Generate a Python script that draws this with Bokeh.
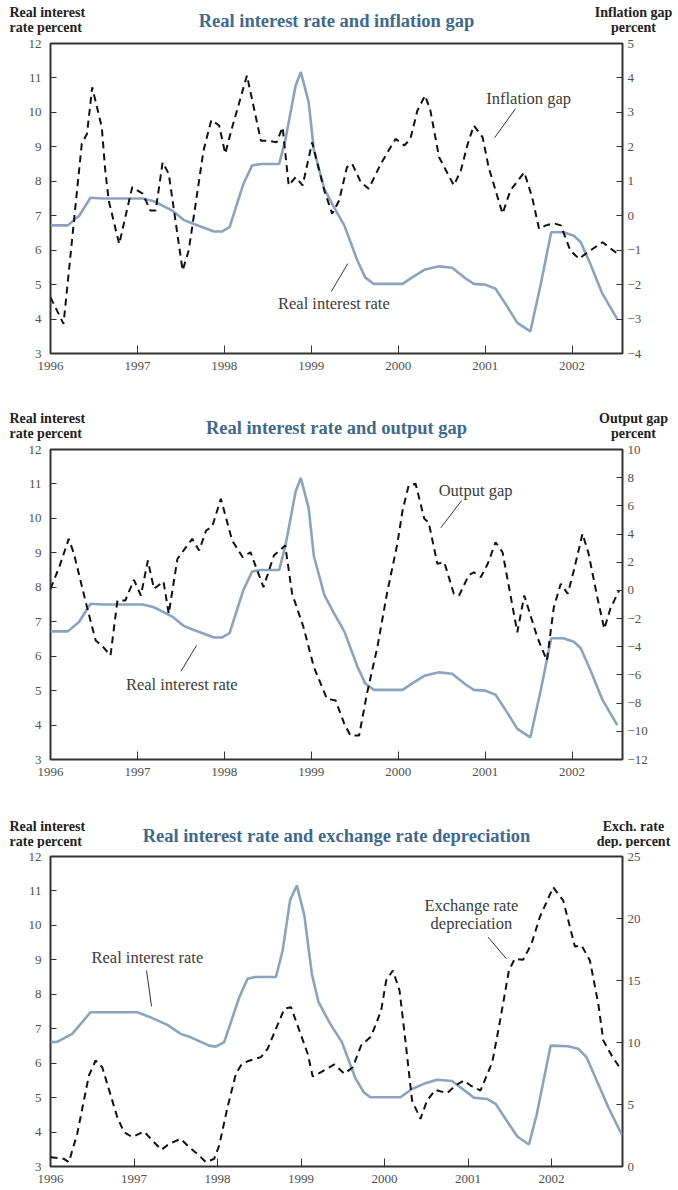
from bokeh.plotting import figure
from bokeh.layouts import column
from bokeh.models import Range1d, LinearAxis, FixedTicker, Label
from bokeh.embed import file_html
from bokeh.resources import INLINE

# ---------------- data ----------------
YEARS = [1996, 1997, 1998, 1999, 2000, 2001, 2002]

# Real interest rate (percent) as drawn in panels 1 and 2
RATE_T = [1996.00, 1996.20, 1996.33, 1996.46, 1996.60, 1997.06, 1997.19, 1997.40, 1997.53, 1997.65,
          1997.88, 1997.97, 1998.06, 1998.22, 1998.32, 1998.42, 1998.63, 1998.70, 1998.82, 1998.88,
          1998.97, 1999.03, 1999.15, 1999.26, 1999.38, 1999.53, 1999.62, 1999.72, 2000.05, 2000.16,
          2000.30, 2000.47, 2000.62, 2000.78, 2000.87, 2001.00, 2001.12, 2001.26, 2001.37, 2001.52,
          2001.64, 2001.76, 2001.90, 2002.02, 2002.10, 2002.21, 2002.35, 2002.52]
RATE_V = [6.72, 6.72, 7.00, 7.52, 7.50, 7.50, 7.42, 7.15, 6.88, 6.76,
          6.54, 6.54, 6.67, 7.93, 8.46, 8.50, 8.50, 9.18, 10.78, 11.17,
          10.30, 8.90, 7.78, 7.25, 6.72, 5.70, 5.21, 5.02, 5.02, 5.21,
          5.43, 5.53, 5.49, 5.17, 5.02, 5.00, 4.88, 4.34, 3.89, 3.64,
          5.02, 6.52, 6.52, 6.42, 6.23, 5.60, 4.73, 4.00]

# Inflation gap (percent)
INFL_T = [1996.00, 1996.15, 1996.36, 1996.42, 1996.48, 1996.59, 1996.63, 1996.67, 1996.79, 1996.94,
          1997.06, 1997.15, 1997.21, 1997.29, 1997.36, 1997.52, 1997.59, 1997.76, 1997.85, 1997.94,
          1998.01, 1998.09, 1998.26, 1998.42, 1998.51, 1998.60, 1998.67, 1998.74, 1998.82, 1998.90,
          1999.01, 1999.15, 1999.24, 1999.32, 1999.41, 1999.47, 1999.57, 1999.66, 1999.80, 1999.97,
          2000.07, 2000.14, 2000.22, 2000.31, 2000.37, 2000.47, 2000.64, 2000.72, 2000.80, 2000.87,
          2000.97, 2001.04, 2001.20, 2001.29, 2001.45, 2001.54, 2001.62, 2001.70, 2001.79, 2001.87,
          2001.98, 2002.08, 2002.18, 2002.35, 2002.50, 2002.55]
INFL_V = [-2.37, -3.14, 2.09, 2.38, 3.73, 2.57, 1.31, 0.44, -0.82, 0.83,
          0.64, 0.15, 0.15, 1.55, 1.22, -1.59, -1.01, 1.89, 2.78, 2.62,
          1.80, 2.57, 4.07, 2.18, 2.18, 2.13, 2.57, 0.88, 1.12, 0.88,
          2.13, 0.73, 0.06, 0.44, 1.41, 1.51, 0.97, 0.78, 1.51, 2.23,
          2.04, 2.23, 3.05, 3.49, 3.05, 1.70, 0.88, 1.31, 2.09, 2.62,
          2.28, 1.41, 0.06, 0.73, 1.26, 0.54, -0.38, -0.28, -0.22, -0.28,
          -1.01, -1.25, -1.06, -0.77, -1.06, -1.15]

# Output gap (percent)
OUT_T = [1996.00, 1996.10, 1996.21, 1996.27, 1996.42, 1996.52, 1996.59, 1996.69, 1996.77, 1996.86,
         1996.96, 1997.04, 1997.12, 1997.19, 1997.30, 1997.36, 1997.46, 1997.63, 1997.71, 1997.79,
         1997.86, 1997.96, 1998.09, 1998.21, 1998.30, 1998.45, 1998.57, 1998.70, 1998.78, 1998.91,
         1999.03, 1999.18, 1999.28, 1999.38, 1999.45, 1999.55, 1999.64, 1999.76, 1999.87, 1999.99,
         2000.05, 2000.12, 2000.20, 2000.30, 2000.35, 2000.45, 2000.53, 2000.64, 2000.70, 2000.81,
         2000.87, 2000.95, 2001.03, 2001.12, 2001.20, 2001.37, 2001.45, 2001.60, 2001.71, 2001.79,
         2001.87, 2001.95, 2002.02, 2002.12, 2002.19, 2002.29, 2002.37, 2002.44, 2002.54]
OUT_V = [0.11, 1.65, 3.66, 2.60, -1.19, -3.56, -3.91, -4.62, -0.72, -0.72,
         0.75, -0.36, 2.12, 0.11, 0.63, -1.66, 2.24, 3.66, 2.83, 4.25,
         4.53, 6.50, 3.54, 2.36, 2.71, 0.23, 2.48, 3.19, -0.24, -2.61,
         -5.45, -7.69, -7.81, -9.47, -10.30, -10.30, -7.34, -4.03, -0.24, 3.31,
         5.67, 7.44, 7.57, 5.08, 4.84, 1.89, 2.00, -0.24, -0.36, 1.06,
         1.29, 0.94, 1.89, 3.42, 2.71, -2.97, -0.36, -3.32, -4.98, -1.19,
         0.47, -0.24, 1.41, 4.02, 2.60, -0.48, -2.73, -1.31, -0.01]

# Real interest rate as drawn in panel 3 (longer time axis)
RATE3_T = [1996.00, 1996.08, 1996.26, 1996.48, 1997.04, 1997.20, 1997.40, 1997.56, 1997.68, 1997.90,
           1997.98, 1998.08, 1998.26, 1998.36, 1998.45, 1998.70, 1998.78, 1998.87, 1998.95, 1999.04,
           1999.13, 1999.21, 1999.35, 1999.49, 1999.65, 1999.75, 1999.83, 2000.19, 2000.33, 2000.47,
           2000.63, 2000.81, 2001.07, 2001.23, 2001.33, 2001.59, 2001.73, 2001.82, 2001.99, 2002.20,
           2002.32, 2002.42, 2002.68, 2002.84]
RATE3_V = [6.61, 6.62, 6.85, 7.48, 7.48, 7.33, 7.11, 6.85, 6.75, 6.51,
           6.48, 6.61, 7.91, 8.45, 8.50, 8.50, 9.27, 10.74, 11.16, 10.29,
           8.59, 7.77, 7.14, 6.61, 5.57, 5.16, 5.01, 5.01, 5.25, 5.40,
           5.52, 5.48, 5.00, 4.96, 4.82, 3.87, 3.64, 4.48, 6.51, 6.49,
           6.42, 6.17, 4.72, 3.93]

# Exchange rate depreciation (percent)
EXR_T = [1996.00, 1996.16, 1996.22, 1996.32, 1996.46, 1996.54, 1996.62, 1996.80, 1996.88, 1996.98,
         1997.12, 1997.24, 1997.33, 1997.42, 1997.56, 1997.66, 1997.78, 1997.86, 1997.96, 1998.02,
         1998.12, 1998.22, 1998.28, 1998.36, 1998.52, 1998.60, 1998.70, 1998.80, 1998.88, 1998.98,
         1999.08, 1999.14, 1999.24, 1999.40, 1999.52, 1999.62, 1999.72, 1999.84, 1999.96, 2000.02,
         2000.10, 2000.18, 2000.25, 2000.33, 2000.43, 2000.51, 2000.61, 2000.75, 2000.85, 2000.95,
         2001.03, 2001.15, 2001.29, 2001.37, 2001.49, 2001.56, 2001.66, 2001.76, 2001.86, 2002.02,
         2002.14, 2002.28, 2002.36, 2002.46, 2002.56, 2002.62, 2002.72, 2002.84]
EXR_V = [0.75, 0.62, 0.35, 2.64, 7.34, 8.55, 8.00, 3.97, 2.77, 2.37,
         2.82, 1.96, 1.35, 1.83, 2.23, 1.56, 0.89, 0.35, 0.62, 1.69,
         4.78, 7.47, 8.15, 8.49, 8.82, 9.49, 11.10, 12.72, 12.85, 10.97,
         9.09, 7.26, 7.61, 8.23, 7.48, 8.01, 9.76, 10.50, 12.58, 15.00,
         15.81, 14.19, 10.16, 5.32, 3.84, 5.32, 6.18, 5.91, 6.53, 6.94,
         6.53, 6.13, 8.41, 11.24, 15.81, 16.75, 16.67, 17.96, 20.11, 22.52,
         21.45, 17.74, 17.82, 16.61, 13.12, 10.16, 8.95, 7.74]

LEFT_TICKS = list(range(3, 13))
INFL_TICKS = list(range(-4, 6))
OUT_TICKS = list(range(-12, 11, 2))
EXR_TICKS = list(range(0, 26, 5))

# ---------------- style ----------------
FONT = "Liberation Serif"
TITLE_COLOR = "#41698b"
RATE_COLOR = "#8ba4be"
FRAME_COLOR = "#333333"
TEXT_COLOR = "#3c3c3c"
W = 678


def header(height, y1, y2, yt, title, r1, r2):
    h = figure(width=W, height=height, x_range=Range1d(0, W), y_range=Range1d(height, 0),
               x_axis_type=None, y_axis_type=None, min_border=0, toolbar_location=None,
               output_backend="svg", outline_line_color=None, frame_align=False,
               background_fill_color="white", border_fill_color="white")
    h.grid.visible = False

    def lab(x, y, text, align, size, color):
        h.add_layout(Label(x=x, y=y, text=text, text_font=FONT, text_font_size=size,
                           text_font_style="bold", text_color=color,
                           text_align=align, text_baseline="middle"))

    lab(9, y1, "Real interest", "left", "14px", "#222222")
    lab(9, y2, "rate percent", "left", "14px", "#222222")
    lab(633, y1, r1, "center", "14px", "#222222")
    lab(633, y2, r2, "center", "14px", "#222222")
    lab(336, yt, title, "center", "18.5px", TITLE_COLOR)
    return h


def make_panel(x_end, y2, y2_ticks, height, bottom):
    p = figure(width=W, height=height, x_range=Range1d(1996, x_end), y_range=Range1d(3, 12),
               output_backend="svg", toolbar_location=None,
               min_border_left=50, min_border_right=56, min_border_top=8, min_border_bottom=bottom,
               background_fill_color="white", border_fill_color="white")
    p.extra_y_ranges = {"r": Range1d(y2[0], y2[1])}
    p.add_layout(LinearAxis(y_range_name="r", ticker=FixedTicker(ticks=y2_ticks)), "right")
    p.grid.visible = False
    p.outline_line_color = FRAME_COLOR
    p.outline_line_width = 2
    p.outline_line_alpha = 1
    p.xaxis.ticker = FixedTicker(ticks=YEARS)
    p.left[0].ticker = FixedTicker(ticks=LEFT_TICKS)
    for ax in p.axis:
        ax.axis_line_color = None
        ax.major_tick_in = 6
        ax.major_tick_out = 0
        ax.major_tick_line_color = FRAME_COLOR
        ax.major_tick_line_width = 1
        ax.minor_tick_line_color = None
        ax.major_label_text_font = FONT
        ax.major_label_text_font_size = "13px"
        ax.major_label_text_color = "#505050"
    p.left[0].major_label_standoff = 9
    p.right[0].major_label_standoff = 5
    p.xaxis.major_tick_in = 8
    p.xaxis.major_label_standoff = 8
    return p


def note(p, x, y, text):
    p.add_layout(Label(x=x, y=y, text=text, text_font=FONT, text_font_size="16.5px",
                       text_color=TEXT_COLOR, text_align="center", text_baseline="middle"))


def leader(p, x0, y0, x1, y1):
    p.segment(x0=[x0], y0=[y0], x1=[x1], y1=[y1], line_color="#333333", line_width=1)


# ---------------- panel 1 ----------------
h1 = header(35, 12, 27, 20, "Real interest rate and inflation gap", "Inflation gap", "percent")
p1 = make_panel(2002.58, (-4, 5), INFL_TICKS, 363, 45)
p1.line(RATE_T, RATE_V, line_color=RATE_COLOR, line_width=2.6)
p1.line(INFL_T, INFL_V, y_range_name="r", line_color="#111111", line_width=2, line_dash="7 5")
note(p1, 2001.50, 10.40, "Inflation gap")
leader(p1, 2001.35, 10.11, 2001.11, 9.27)
note(p1, 1999.26, 4.45, "Real interest rate")
leader(p1, 1999.42, 5.61, 1999.23, 4.80)

# ---------------- panel 2 ----------------
h2 = header(43, 20, 35, 29, "Real interest rate and output gap", "Output gap", "percent")
p2 = make_panel(2002.58, (-12, 10), OUT_TICKS, 364, 46)
p2.line(RATE_T, RATE_V, line_color=RATE_COLOR, line_width=2.6)
p2.line(OUT_T, OUT_V, y_range_name="r", line_color="#111111", line_width=2, line_dash="7 5")
note(p2, 2000.89, 10.81, "Output gap")
leader(p2, 2000.73, 10.52, 2000.49, 9.73)
note(p2, 1997.51, 5.18, "Real interest rate")
leader(p2, 1997.68, 6.31, 1997.50, 5.56)

# ---------------- panel 3 ----------------
h3 = header(43, 21, 36, 30, "Real interest rate and exchange rate depreciation",
            "Exch. rate", "dep. percent")
p3 = make_panel(2002.85, (0, 25), EXR_TICKS, 342, 24)
p3.line(RATE3_T, RATE3_V, line_color=RATE_COLOR, line_width=2.6)
p3.line(EXR_T, EXR_V, y_range_name="r", line_color="#111111", line_width=2, line_dash="7 5")
note(p3, 1997.16, 9.07, "Real interest rate")
leader(p3, 1997.15, 8.69, 1997.21, 7.65)
note(p3, 2001.04, 10.58, "Exchange rate")
note(p3, 2001.04, 10.06, "depreciation")
leader(p3, 2001.24, 9.66, 2001.46, 9.03)

layout = column(h1, p1, h2, p2, h3, p3)
open("out.html", "w").write(file_html(layout, INLINE))
